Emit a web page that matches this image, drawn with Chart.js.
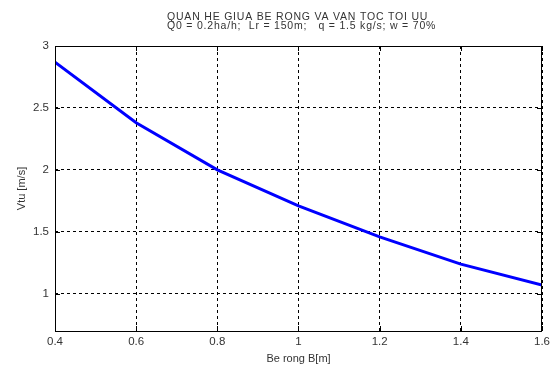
<!DOCTYPE html>
<html>
<head>
<meta charset="utf-8">
<script src="https://cdn.jsdelivr.net/npm/chart.js@4"></script>
<style>
  html, body { margin: 0; padding: 0; background: #fff; }
  #wrap { width: 554px; height: 369px; }
</style>
</head>
<body>
<div id="wrap"><canvas id="chart" width="554" height="369"></canvas></div>
<script>
  // widths B [m] and optimal speed Vtu [m/s]
  const beRong = [0.4, 0.6, 0.8, 1.0, 1.2, 1.4, 1.6];
  const vtu = [2.87, 2.38, 2.0, 1.71, 1.46, 1.24, 1.07];

  const xTicks = [0.4, 0.6, 0.8, 1, 1.2, 1.4, 1.6];
  const yTicks = [1, 1.5, 2, 2.5, 3];

  const titleLines = [
    "QUAN HE GIUA BE RONG VA VAN TOC TOI UU",
    "Q0 = 0.2ha/h;  Lr = 150m;   q = 1.5 kg/s; w = 70%",
  ];

  const FONT = "'Liberation Sans', Arial, sans-serif";
  const TEXT = "#333";

  // title + matlab-style box with inward ticks
  const frame = {
    id: "frame",
    afterDraw(chart) {
      const { ctx, chartArea: a, scales } = chart;
      ctx.save();
      ctx.strokeStyle = "#000";
      ctx.lineWidth = 1;
      ctx.setLineDash([]);
      ctx.strokeRect(a.left + 0.5, a.top + 0.5, a.right - a.left - 1, a.bottom - a.top);
      ctx.beginPath();
      xTicks.forEach((v) => {
        const px = Math.round(scales.x.getPixelForValue(v)) + 0.5;
        ctx.moveTo(px, a.bottom); ctx.lineTo(px, a.bottom - 5);
        ctx.moveTo(px, a.top); ctx.lineTo(px, a.top + 5);
      });
      yTicks.forEach((v) => {
        const py = Math.round(scales.y.getPixelForValue(v)) + 0.5;
        ctx.moveTo(a.left, py); ctx.lineTo(a.left + 5, py);
        ctx.moveTo(a.right, py); ctx.lineTo(a.right - 5, py);
      });
      ctx.stroke();

      ctx.fillStyle = TEXT;
      ctx.font = "10.5px " + FONT;
      ctx.letterSpacing = "0.8px";
      ctx.textAlign = "left";
      ctx.textBaseline = "alphabetic";
      ctx.fillText(titleLines[0], 167, 20);
      ctx.fillText(titleLines[1], 167, 28.5);
      ctx.restore();
    },
  };

  new Chart(document.getElementById("chart"), {
    type: "line",
    data: {
      datasets: [{
        data: beRong.map((b, i) => ({ x: b, y: vtu[i] })),
        borderColor: "#0000ff",
        borderWidth: 3,
        pointRadius: 0,
        tension: 0,
        fill: false,
      }],
    },
    options: {
      responsive: false,
      animation: false,
      layout: { padding: { top: 46, right: 12, left: 0, bottom: 0 } },
      plugins: {
        legend: { display: false },
        title: { display: false },
        tooltip: { enabled: false },
      },
      scales: {
        x: {
          type: "linear",
          min: 0.4,
          max: 1.6,
          afterBuildTicks: (s) => { s.ticks = xTicks.map((v) => ({ value: v })); },
          afterFit: (s) => { s.height = 38; },
          ticks: {
            color: TEXT,
            font: { family: FONT, size: 11.5 },
            padding: 4,
            maxRotation: 0,
            callback: (v) => String(v),
          },
          grid: { color: "#000", lineWidth: 1, drawTicks: false },
          border: { display: false, dash: [3, 3] },
          title: {
            display: true,
            text: "Be rong B[m]",
            color: TEXT,
            font: { family: FONT, size: 11 },
            padding: { top: 0, bottom: 3 },
          },
        },
        y: {
          min: 0.7,
          max: 3,
          afterBuildTicks: (s) => { s.ticks = yTicks.map((v) => ({ value: v })); },
          afterFit: (s) => { s.width = 55; },
          ticks: {
            color: TEXT,
            font: { family: FONT, size: 11.5 },
            padding: 6,
            callback: (v) => String(v),
          },
          grid: { color: "#000", lineWidth: 1, drawTicks: false },
          border: { display: false, dash: [3, 3] },
          title: {
            display: true,
            text: "Vtu [m/s]",
            color: TEXT,
            font: { family: FONT, size: 11 },
            padding: { top: 15, bottom: 0 },
          },
        },
      },
    },
    plugins: [frame],
  });
</script>
</body>
</html>
